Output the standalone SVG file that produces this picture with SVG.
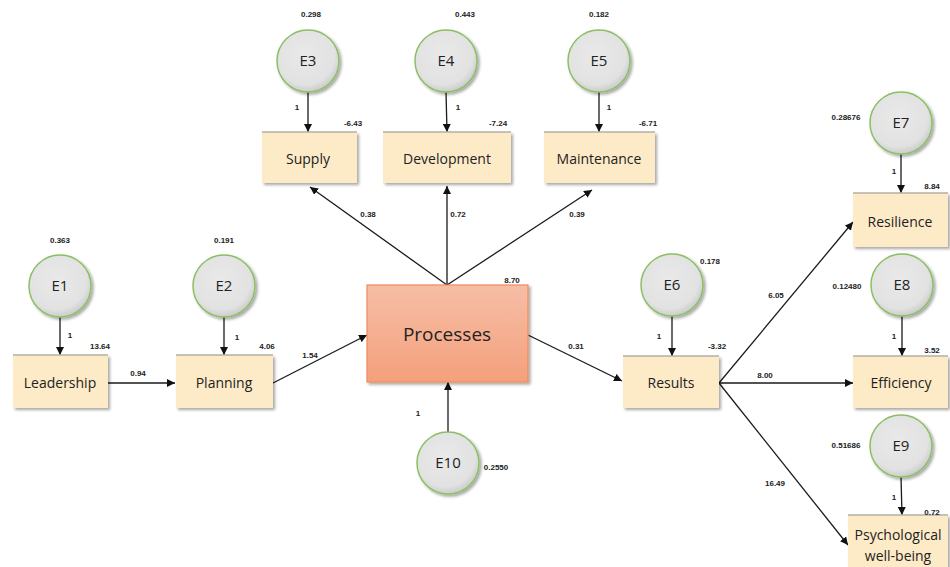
<svg xmlns="http://www.w3.org/2000/svg" width="950" height="567" viewBox="0 0 950 567">
<defs>
<linearGradient id="pg" x1="0" y1="0" x2="0" y2="1"><stop offset="0" stop-color="#f6bea6"/><stop offset="1" stop-color="#f4a07c"/></linearGradient>
<radialGradient id="cg" cx="0.45" cy="0.4" r="0.6"><stop offset="0" stop-color="#e9e9e9"/><stop offset="0.8" stop-color="#e2e2e2"/><stop offset="1" stop-color="#cccccc"/></radialGradient>
<filter id="sh" x="-20%" y="-20%" width="150%" height="150%"><feGaussianBlur in="SourceAlpha" stdDeviation="1.5"/><feOffset dx="2" dy="2"/><feComponentTransfer><feFuncA type="linear" slope="0.35"/></feComponentTransfer><feMerge><feMergeNode/><feMergeNode in="SourceGraphic"/></feMerge></filter>
<marker id="ar" viewBox="0 0 10 10" refX="10" refY="5" markerWidth="8" markerHeight="8" markerUnits="userSpaceOnUse" orient="auto"><path d="M0,0 L10,5 L0,10 z" fill="#111"/></marker>
<style>
.box{fill:#fdebc8;filter:url(#sh)}
.top{stroke:#b5b0a5;stroke-width:1.5}
.bt{font-family:"Open Sans","Liberation Sans",sans-serif;font-size:14px;fill:#222;text-anchor:middle}
.ct{font-family:"Open Sans","Liberation Sans",sans-serif;font-size:15px;fill:#222;text-anchor:middle}
.cir{fill:url(#cg);stroke:#8cbf64;stroke-width:1.5;filter:url(#sh)}
.n{font-family:"Liberation Sans",Arial,sans-serif;font-size:8px;font-weight:bold;fill:#222;text-anchor:middle}
.c{stroke:#1a1a1a;stroke-width:1.3;fill:none;marker-end:url(#ar)}
</style>
</defs>
<rect width="950" height="567" fill="#fff"/>
<g id="connectors">
<line class="c" x1="60" y1="317" x2="60" y2="355"/>
<line class="c" x1="224" y1="317" x2="224" y2="355"/>
<line class="c" x1="108" y1="383" x2="175" y2="383"/>
<line class="c" x1="273" y1="383" x2="367" y2="335"/>
<line class="c" x1="448" y1="432" x2="448" y2="382"/>
<line class="c" x1="308" y1="92" x2="308" y2="132"/>
<line class="c" x1="446" y1="92" x2="447" y2="132"/>
<line class="c" x1="599" y1="92" x2="599" y2="132"/>
<line class="c" x1="447" y1="285" x2="310" y2="187"/>
<line class="c" x1="447" y1="285" x2="447" y2="186"/>
<line class="c" x1="447" y1="285" x2="592" y2="190"/>
<line class="c" x1="528" y1="335" x2="622" y2="381"/>
<line class="c" x1="672" y1="316" x2="672" y2="356"/>
<line class="c" x1="719" y1="383" x2="853" y2="383"/>
<line class="c" x1="719" y1="383" x2="853" y2="222"/>
<line class="c" x1="719" y1="383" x2="848" y2="545"/>
<line class="c" x1="901" y1="154" x2="901" y2="193"/>
<line class="c" x1="902" y1="316" x2="902" y2="356"/>
<line class="c" x1="901" y1="477" x2="902" y2="515"/>
</g>
<g id="E1"><circle class="cir" cx="60" cy="286" r="31"/><text class="ct" x="60" y="291">E1</text><text class="n" x="60" y="243">0.363</text></g>
<g id="E2"><circle class="cir" cx="224" cy="286" r="31"/><text class="ct" x="224" y="291">E2</text><text class="n" x="224" y="243">0.191</text></g>
<g id="E3"><circle class="cir" cx="308" cy="61" r="31"/><text class="ct" x="308" y="66">E3</text><text class="n" x="311" y="17">0.298</text></g>
<g id="E4"><circle class="cir" cx="446" cy="61" r="31"/><text class="ct" x="446" y="66">E4</text><text class="n" x="465" y="17">0.443</text></g>
<g id="E5"><circle class="cir" cx="599" cy="61" r="31"/><text class="ct" x="599" y="66">E5</text><text class="n" x="599" y="17">0.182</text></g>
<g id="E6"><circle class="cir" cx="672" cy="285" r="31"/><text class="ct" x="672" y="290">E6</text><text class="n" x="710" y="264">0.178</text></g>
<g id="E7"><circle class="cir" cx="901" cy="123" r="31"/><text class="ct" x="901" y="128">E7</text><text class="n" x="846" y="120">0.28676</text></g>
<g id="E8"><circle class="cir" cx="902" cy="285" r="31"/><text class="ct" x="902" y="290">E8</text><text class="n" x="847" y="289">0.12480</text></g>
<g id="E9"><circle class="cir" cx="901" cy="446" r="31"/><text class="ct" x="901" y="451">E9</text><text class="n" x="846" y="448">0.51686</text></g>
<g id="E10"><circle class="cir" cx="448" cy="463" r="31"/><text class="ct" x="448" y="468">E10</text><text class="n" x="496" y="470">0.2550</text></g>
<g id="Leadership"><rect class="box" x="13" y="355" width="95" height="53"/><line class="top" x1="13" y1="355" x2="108" y2="355"/><text class="bt" x="60" y="388">Leadership</text></g>
<g id="Planning"><rect class="box" x="176" y="355" width="97" height="53"/><line class="top" x1="176" y1="355" x2="273" y2="355"/><text class="bt" x="224" y="388">Planning</text></g>
<g id="Supply"><rect class="box" x="262" y="132" width="95" height="51"/><line class="top" x1="262" y1="132" x2="357" y2="132"/><text class="bt" x="308" y="164">Supply</text></g>
<g id="Development"><rect class="box" x="383" y="132" width="128" height="51"/><line class="top" x1="383" y1="132" x2="511" y2="132"/><text class="bt" x="447" y="164">Development</text></g>
<g id="Maintenance"><rect class="box" x="544" y="132" width="111" height="51"/><line class="top" x1="544" y1="132" x2="655" y2="132"/><text class="bt" x="599" y="164">Maintenance</text></g>
<g id="Processes"><rect x="367" y="285" width="161" height="97" fill="url(#pg)" stroke="#f08a5d" stroke-width="1.2" filter="url(#sh)"/><text x="447" y="341" font-family="Open Sans,Liberation Sans,sans-serif" font-size="19" fill="#222" text-anchor="middle">Processes</text></g>
<g id="Results"><rect class="box" x="623" y="356" width="96" height="52"/><line class="top" x1="623" y1="356" x2="719" y2="356"/><text class="bt" x="671" y="388">Results</text></g>
<g id="Resilience"><rect class="box" x="853" y="193" width="95" height="54"/><line class="top" x1="853" y1="193" x2="948" y2="193"/><text class="bt" x="900" y="227">Resilience</text></g>
<g id="Efficiency"><rect class="box" x="853" y="356" width="95" height="52"/><line class="top" x1="853" y1="356" x2="948" y2="356"/><text class="bt" x="901" y="388">Efficiency</text></g>
<g id="Psychological"><rect class="box" x="848" y="515" width="100" height="56"/><line class="top" x1="848" y1="515" x2="948" y2="515"/><text class="bt" x="898" y="540">Psychological</text><text class="bt" x="898" y="561">well-being</text></g>
<g id="labels">
<text class="n" x="70" y="338">1</text>
<text class="n" x="100" y="349">13.64</text>
<text class="n" x="237" y="340">1</text>
<text class="n" x="267" y="349">4.06</text>
<text class="n" x="138" y="376">0.94</text>
<text class="n" x="310" y="358">1.54</text>
<text class="n" x="418" y="416">1</text>
<text class="n" x="297" y="110">1</text>
<text class="n" x="353" y="126">-6.43</text>
<text class="n" x="458" y="110">1</text>
<text class="n" x="498" y="126">-7.24</text>
<text class="n" x="609" y="110">1</text>
<text class="n" x="648" y="126">-6.71</text>
<text class="n" x="368" y="217">0.38</text>
<text class="n" x="458" y="217">0.72</text>
<text class="n" x="577" y="217">0.39</text>
<text class="n" x="512" y="283">8.70</text>
<text class="n" x="576" y="349">0.31</text>
<text class="n" x="659" y="339">1</text>
<text class="n" x="717" y="349">-3.32</text>
<text class="n" x="776" y="298">6.05</text>
<text class="n" x="765" y="378">8.00</text>
<text class="n" x="775" y="486">16.49</text>
<text class="n" x="894" y="174">1</text>
<text class="n" x="932" y="189">8.84</text>
<text class="n" x="894" y="339">1</text>
<text class="n" x="932" y="353">3.52</text>
<text class="n" x="894" y="500">1</text>
<text class="n" x="932" y="515">0.72</text>
</g>
</svg>
